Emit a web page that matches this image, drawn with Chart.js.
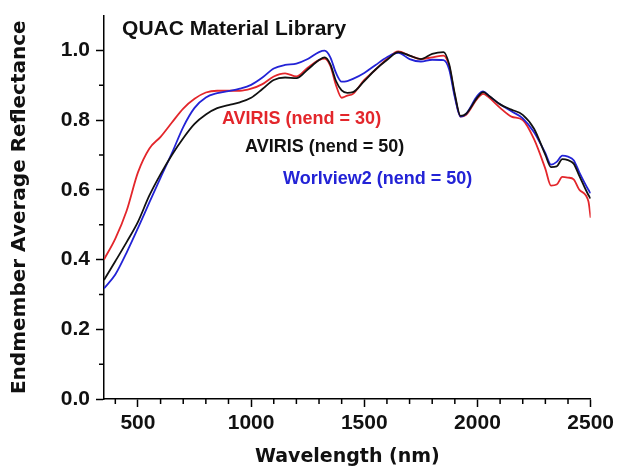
<!DOCTYPE html>
<html>
<head>
<meta charset="utf-8">
<script src="https://cdn.jsdelivr.net/npm/chart.js@4"></script>
<style>
  html, body { margin: 0; padding: 0; background: #fff; }
</style>
</head>
<body>
<canvas id="quacChart" width="618" height="470"></canvas>
<script>
// Wavelength grid (nm) and the three endmember average reflectance curves
const wavelengths = [350, 400, 450, 500, 550, 600, 650, 700, 750, 800, 850, 900, 950, 1000,
  1050, 1100, 1150, 1200, 1250, 1300, 1325, 1350, 1375, 1400, 1425, 1450, 1500, 1550, 1600,
  1650, 1700, 1750, 1800, 1850, 1875, 1900, 1925, 1950, 2000, 2025, 2050, 2100, 2150, 2200,
  2250, 2300, 2325, 2350, 2375, 2400, 2425, 2450, 2490, 2500];

const aviris30 = [0.40, 0.46, 0.54, 0.65, 0.718, 0.752, 0.793, 0.833, 0.861, 0.879, 0.884, 0.884, 0.884, 0.89,
  0.903, 0.925, 0.934, 0.925, 0.95, 0.972, 0.976, 0.955, 0.90, 0.864, 0.87, 0.875, 0.915, 0.945, 0.975,
  0.997, 0.985, 0.975, 0.98, 0.985, 0.955, 0.87, 0.81, 0.815, 0.862, 0.875, 0.865, 0.835, 0.81, 0.80,
  0.745, 0.66, 0.612, 0.615, 0.637, 0.635, 0.63, 0.60, 0.567, 0.52];

const aviris50 = [0.341, 0.395, 0.45, 0.508, 0.583, 0.645, 0.70, 0.748, 0.789, 0.816, 0.834, 0.843, 0.851, 0.864,
  0.889, 0.915, 0.922, 0.92, 0.945, 0.972, 0.98, 0.96, 0.912, 0.885, 0.878, 0.88, 0.912, 0.945, 0.972,
  0.995, 0.985, 0.975, 0.99, 0.995, 0.96, 0.875, 0.812, 0.818, 0.865, 0.88, 0.87, 0.845, 0.83, 0.815,
  0.775, 0.70, 0.665, 0.667, 0.688, 0.685, 0.675, 0.64, 0.585, 0.575];

const worldview2 = [0.317, 0.357, 0.42, 0.49, 0.563, 0.635, 0.705, 0.78, 0.835, 0.865, 0.877, 0.883, 0.89, 0.901,
  0.922, 0.948, 0.958, 0.962, 0.975, 0.995, 0.999, 0.98, 0.935, 0.91, 0.912, 0.918, 0.935, 0.958, 0.98,
  0.993, 0.975, 0.968, 0.973, 0.972, 0.945, 0.865, 0.81, 0.818, 0.87, 0.882, 0.87, 0.845, 0.825, 0.805,
  0.765, 0.705, 0.672, 0.68, 0.698, 0.695, 0.685, 0.65, 0.60, 0.59];

const seriesNames = ["AVIRIS (nend = 30)", "AVIRIS (nend = 50)", "Worlview2 (nend = 50)"];
const seriesColors = ["#e3262b", "#111111", "#2323d6"];

// axis tick labels
const xTickValues = [500, 1000, 1500, 2000, 2500];
const yTickValues = [0.0, 0.2, 0.4, 0.6, 0.8, 1.0];

const RED = seriesColors[0], BLACK = seriesColors[1], BLUE = seriesColors[2];
const arial = "'Liberation Sans', Arial, sans-serif";

function toPoints(values) {
  return wavelengths.map((w, i) => ({ x: w, y: values[i] }));
}

// minor tick marks (every 100 nm / 0.1), shorter than the major ones
const minorTicks = {
  id: 'minorTicks',
  afterDraw(chart) {
    const { ctx, scales: { x, y } } = chart;
    ctx.save();
    ctx.strokeStyle = '#000';
    ctx.lineWidth = 1.5;
    ctx.beginPath();
    for (let w = 400; w < 2500; w += 100) {
      if (w % 500 === 0) continue;
      const px = x.getPixelForValue(w);
      ctx.moveTo(px, y.bottom);
      ctx.lineTo(px, y.bottom + 5);
    }
    for (let v = 0.1; v < 1.0; v += 0.2) {
      const py = y.getPixelForValue(v);
      ctx.moveTo(x.left - 5, py);
      ctx.lineTo(x.left, py);
    }
    ctx.stroke();
    ctx.restore();
  }
};

// text labels placed in data coordinates
const plotLabels = [
  { text: "QUAC Material Library", color: BLACK, x: 430, y: 1.06, size: 21 },
  { text: seriesNames[0], color: RED, x: 871, y: 0.803, size: 18 },
  { text: seriesNames[1], color: BLACK, x: 973, y: 0.722, size: 18 },
  { text: seriesNames[2], color: BLUE, x: 1141, y: 0.632, size: 18 }
];

const textLabels = {
  id: 'textLabels',
  afterDatasetsDraw(chart) {
    const { ctx, scales: { x, y } } = chart;
    ctx.save();
    ctx.textAlign = 'left';
    ctx.textBaseline = 'middle';
    plotLabels.forEach(l => {
      ctx.font = 'bold ' + l.size + 'px ' + arial;
      ctx.fillStyle = l.color;
      ctx.fillText(l.text, x.getPixelForValue(l.x), y.getPixelForValue(l.y));
    });
    ctx.restore();
  }
};

const ctx = document.getElementById('quacChart').getContext('2d');
const quacChart = new Chart(ctx, {
  type: 'line',
  data: {
    datasets: [
      { label: seriesNames[1], data: toPoints(aviris50), borderColor: BLACK },
      { label: seriesNames[2], data: toPoints(worldview2), borderColor: BLUE },
      { label: seriesNames[0], data: toPoints(aviris30), borderColor: RED }
    ]
  },
  options: {
    responsive: false,
    animation: false,
    layout: { padding: { top: 10, right: 27, left: 0, bottom: 0 } },
    elements: {
      line: { borderWidth: 1.8, cubicInterpolationMode: 'monotone', fill: false },
      point: { radius: 0 }
    },
    plugins: {
      legend: { display: false },
      tooltip: { enabled: false }
    },
    scales: {
      x: {
        type: 'linear',
        min: 350,
        max: 2500,
        afterBuildTicks: s => { s.ticks = xTickValues.map(v => ({ value: v })); },
        afterFit: s => { s.height = 71; },
        border: { color: '#000', width: 1.5 },
        grid: { drawOnChartArea: false, tickLength: 8, tickColor: '#000', tickWidth: 1.5 },
        ticks: {
          maxRotation: 0,
          autoSkip: false,
          padding: 4,
          color: '#111',
          font: { family: arial, weight: 'bold', size: 21 },
          callback: v => String(v)
        },
        title: {
          display: true,
          text: 'Wavelength (nm)',
          color: '#111',
          padding: { top: 0, bottom: 2 },
          font: { family: "'DejaVu Sans', sans-serif", weight: 'bold', size: 19 }
        }
      },
      y: {
        min: 0,
        max: 1.1,
        afterBuildTicks: s => { s.ticks = yTickValues.map(v => ({ value: v })); },
        afterFit: s => { s.width = 104; },
        border: { color: '#000', width: 1.5 },
        grid: { drawOnChartArea: false, tickLength: 8, tickColor: '#000', tickWidth: 1.5 },
        ticks: {
          padding: 6,
          color: '#111',
          font: { family: arial, weight: 'bold', size: 21, lineHeight: 0.9 },
          callback: v => v.toFixed(1)
        },
        title: {
          display: true,
          text: 'Endmember Average Reflectance',
          color: '#111',
          padding: { top: 8, bottom: 0 },
          font: { family: "'DejaVu Sans', sans-serif", weight: 'bold', size: 20 }
        }
      }
    }
  },
  plugins: [minorTicks, textLabels]
});
</script>
</body>
</html>
